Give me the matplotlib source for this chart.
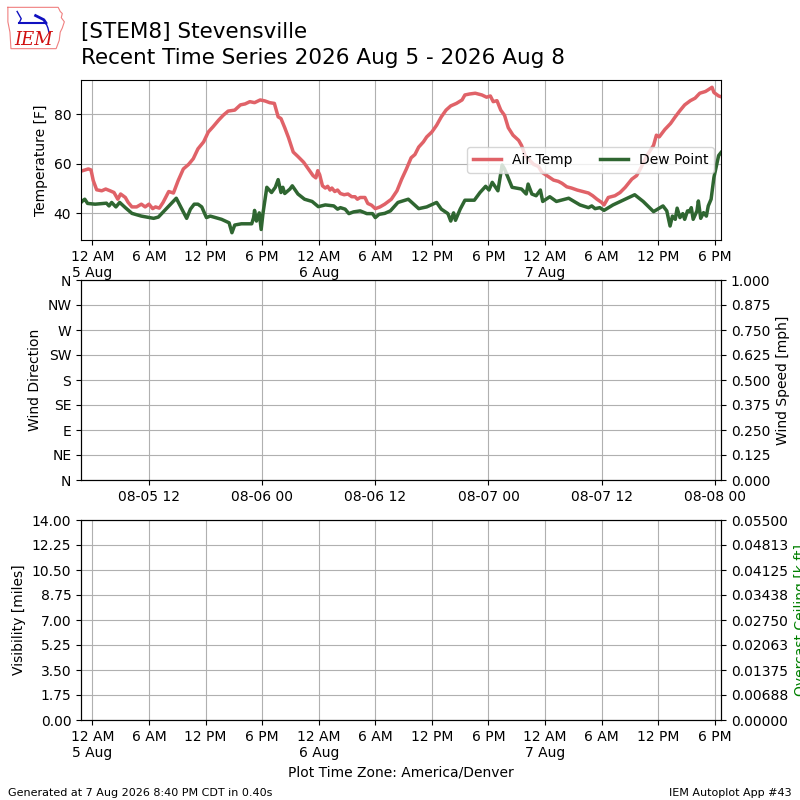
import datetime
import matplotlib
matplotlib.use("Agg")
import matplotlib.pyplot as plt
import matplotlib.dates as mdates
from matplotlib.ticker import FuncFormatter, FixedLocator

# hours relative to 2026-08-05 00:00 America/Denver
temp_hours = [-1.2, -0.42, -0.14, 0.1, 0.46, 1.0, 1.42, 1.88, 2.3, 2.7, 3.0, 3.5, 3.8, 4.2, 4.7,
              5.2, 5.6, 6.0, 6.4, 6.7, 7.1, 7.5, 8.1, 8.6, 9.1, 9.65, 10.2, 10.7, 11.2, 11.8,
              12.3, 12.8, 13.4, 13.9, 14.4, 15.1, 15.7, 16.2, 16.7, 17.2, 17.8, 18.3, 18.8,
              19.3, 19.7, 20.0, 20.4, 20.8, 21.3, 21.8, 22.4, 22.9, 23.4, 23.7, 23.9, 24.1,
              24.4, 24.7, 24.95, 25.2, 25.4, 25.7, 26.0, 26.3, 26.7, 27.1, 27.5, 27.85, 28.1,
              28.4, 28.9, 29.2, 29.6, 30.0, 30.5, 31.0, 31.7, 32.3, 32.8, 33.3, 33.8, 34.2,
              34.6, 35.1, 35.45, 36.0, 36.5, 37.0, 37.5, 38.0, 38.6, 39.2, 39.5, 40.0, 40.6,
              41.3, 41.8, 42.2, 42.5, 42.9, 43.3, 43.7, 44.1, 44.6, 45.2, 45.5, 45.9, 46.2,
              46.8, 47.3, 47.65, 48.2, 48.9, 49.4, 49.8, 50.3, 50.8, 51.4, 52.1, 52.6, 53.05,
              53.5, 54.0, 54.25, 54.7, 55.4, 55.95, 56.5, 57.2, 57.7, 58.1, 58.8, 59.5, 59.8,
              60.1, 60.7, 61.3, 61.8, 62.3, 62.8, 63.4, 63.9, 64.4, 65.0, 65.3, 65.7, 65.9,
              66.4, 66.65]
air_temp = [57.0, 57.9, 57.5, 53.2, 49.5, 49.1, 49.8, 49.1, 48.4, 45.7, 47.8, 46.4, 44.4, 42.6, 42.6,
            43.7, 42.6, 43.7, 41.9, 42.6, 42.1, 44.4, 48.8, 48.2, 53.2, 57.9, 59.7, 62.0, 66.0, 68.8,
            72.8, 74.9, 77.6, 79.6, 81.2, 81.6, 83.7, 84.1, 85.0, 84.6, 85.7, 85.3, 84.6,
            84.3, 78.9, 78.2, 74.5, 70.5, 64.7, 62.9, 60.6, 57.9, 55.2, 54.3, 57.2, 55.6,
            51.1, 50.2, 50.9, 49.4, 50.2, 48.8, 49.4, 48.0, 47.5, 47.8, 46.7, 46.7, 45.7,
            46.4, 46.4, 44.0, 43.3, 41.9, 42.6, 43.7, 45.7, 49.1, 53.8, 57.9, 62.4, 63.7,
            66.7, 68.8, 70.8, 72.8, 75.5, 78.9, 81.6, 83.3, 84.3, 85.7, 87.7, 88.1, 88.4,
            87.7, 86.8, 87.3, 85.0, 85.4, 81.6, 79.5, 74.5, 71.5, 69.4, 67.4, 63.3, 62.0,
            59.7, 58.9, 56.6, 55.2, 53.4, 52.9, 52.1, 50.7, 50.2, 49.4, 48.7, 48.2, 47.1,
            45.7, 44.4, 43.4, 46.4, 47.1, 48.4, 50.5, 53.8, 55.2, 57.9, 63.3, 67.4, 71.5,
            70.8, 73.8, 76.2, 78.9, 81.4, 83.7, 85.4, 86.4, 88.4, 89.1, 89.8, 90.8, 88.7,
            87.3, 87.0]

dew_hours = [-1.2, -0.95, -0.8, -0.5, 0.3, 1.5, 1.77, 2.05, 2.5, 2.9, 3.5, 4.2, 5.2, 6.5, 7.0,
             7.9, 8.9, 9.5, 10.0, 10.4, 10.8, 11.2, 11.6, 12.1, 12.5, 13.7, 14.5, 14.8, 15.1,
             15.8, 16.9, 17.1, 17.2, 17.4, 17.7, 17.9, 18.1, 18.5, 19.0, 19.4, 19.7, 20.0,
             20.2, 20.4, 20.95, 21.2, 21.8, 22.5, 23.3, 23.96, 24.7, 25.6, 26.0, 26.3, 26.8,
             27.2, 27.7, 28.4, 29.1, 29.7, 30.0, 30.4, 31.0, 31.6, 32.4, 33.5, 34.6, 35.45,
             36.5, 37.0, 37.7, 38.0, 38.3, 38.5, 39.0, 39.5, 40.5, 41.1, 41.7, 42.05, 42.4,
             43.0, 43.45, 43.7, 44.5, 45.5, 46.0, 46.2, 46.6, 47.05, 47.5, 47.75, 48.5, 49.2,
             50.5, 51.7, 52.6, 52.95, 53.3, 53.8, 54.25, 55.2, 56.5, 57.5, 58.4, 59.5, 60.5,
             60.9, 61.25, 61.5, 61.8, 62.0, 62.3, 62.6, 62.8, 63.1, 63.3, 63.5, 63.7, 64.1,
             64.25, 64.5, 64.8, 65.1, 65.3, 65.6, 65.9, 66.4, 66.65]
dew_point = [44.4, 45.3, 45.7, 44.0, 43.7, 44.1, 43.0, 44.4, 42.6, 44.4, 42.3, 40.0, 38.9, 38.0, 38.5,
             42.1, 46.1, 41.7, 38.0, 41.7, 43.7, 43.7, 42.6, 38.3, 38.9, 37.6, 36.2, 32.2, 35.3,
             35.8, 35.8, 38.3, 41.2, 36.9, 40.2, 33.5, 40.2, 50.5, 48.4, 50.5, 53.6, 48.4,
             50.5, 48.0, 49.8, 51.1, 47.8, 45.7, 44.8, 42.7, 43.4, 43.0, 41.7, 42.3, 41.7,
             39.9, 40.6, 41.0, 39.9, 39.9, 38.3, 39.6, 40.0, 41.0, 44.4, 45.7, 41.9, 42.6,
             44.4, 41.7, 39.9, 36.9, 40.2, 37.2, 41.7, 45.3, 45.3, 48.4, 50.9, 49.4, 52.5,
             49.1, 59.5, 57.9, 50.5, 49.8, 47.8, 51.8, 47.8, 47.1, 49.4, 44.8, 46.7, 44.8,
             46.1, 43.4, 42.3, 43.0, 41.9, 42.3, 41.2, 43.4, 45.7, 47.5, 44.8, 40.7, 43.0,
             41.0, 34.9, 38.9, 37.6, 42.1, 38.3, 39.9, 37.6, 41.0, 40.7, 42.3, 37.6, 41.0,
             45.0, 38.0, 40.3, 38.9, 43.0, 45.7, 54.5, 63.3, 64.5]

wind_dir_ticks = [0, 45, 90, 135, 180, 225, 270, 315, 360]
wind_dir_labels = ["N", "NE", "E", "SE", "S", "SW", "W", "NW", "N"]
wind_speed_ticks = [0, 0.125, 0.25, 0.375, 0.5, 0.625, 0.75, 0.875, 1.0]
vis_ticks = [0, 1.75, 3.5, 5.25, 7.0, 8.75, 10.5, 12.25, 14.0]
ceiling_ticks = [0, 0.006875, 0.01375, 0.020625, 0.0275, 0.034375, 0.04125, 0.048125, 0.055]
ceiling_labels = ["0.00000", "0.00688", "0.01375", "0.02063", "0.02750",
                  "0.03438", "0.04125", "0.04813", "0.05500"]

base = datetime.datetime(2026, 8, 5, 0, 0)
utc_offset = datetime.timedelta(hours=6)
t_air = [base + datetime.timedelta(hours=h) for h in temp_hours]
t_dew = [base + datetime.timedelta(hours=h) for h in dew_hours]
t0 = min(t_air[0], t_dew[0])
t1 = max(t_air[-1], t_dew[-1])


def local_fmt(x, pos=None):
    d = mdates.num2date(x)
    lab = d.strftime("%I %p").lstrip("0")
    if d.hour == 0:
        lab += "\n" + str(d.day) + d.strftime(" %b")
    return lab


fig = plt.figure(figsize=(8, 8), dpi=100)

# temperature panel
ax1 = fig.add_axes([0.10125, 0.70, 0.80, 0.20])
ax1.plot(t_air, air_temp, color="#e06268", lw=2.5, label="Air Temp")
ax1.plot(t_dew, dew_point, color="#2f6631", lw=2.5, label="Dew Point")
ax1.set_xlim(t0, t1)
ax1.set_yticks([40, 60, 80])
ax1.grid(True)
ax1.set_ylabel("Temperature [F]")
ax1.xaxis.set_major_locator(mdates.HourLocator(byhour=[0, 6, 12, 18]))
ax1.xaxis.set_major_formatter(FuncFormatter(local_fmt))
ax1.legend(loc="center right", ncol=2)

# wind panel (no data, shown in UTC)
ax2 = fig.add_axes([0.10125, 0.40, 0.80, 0.25])
ax2.set_xlim(t0 + utc_offset, t1 + utc_offset)
ax2.xaxis.set_major_locator(mdates.HourLocator(byhour=[0, 12]))
ax2.xaxis.set_major_formatter(mdates.DateFormatter("%m-%d %H"))
ax2.set_ylim(0, 360)
ax2.set_yticks(wind_dir_ticks)
ax2.set_yticklabels(wind_dir_labels)
ax2.set_ylabel("Wind Direction")
ax2.grid(True)
ax2b = ax2.twinx()
ax2b.set_ylim(0, 1)
ax2b.set_yticks(wind_speed_ticks)
ax2b.set_yticklabels(["%.3f" % v for v in wind_speed_ticks])
ax2b.set_ylabel("Wind Speed [mph]")

# visibility panel
ax3 = fig.add_axes([0.10125, 0.10, 0.80, 0.25])
ax3.set_xlim(t0, t1)
ax3.xaxis.set_major_locator(mdates.HourLocator(byhour=[0, 6, 12, 18]))
ax3.xaxis.set_major_formatter(FuncFormatter(local_fmt))
ax3.set_ylim(0, 14)
ax3.set_yticks(vis_ticks)
ax3.set_yticklabels(["%.2f" % v for v in vis_ticks])
ax3.set_ylabel("Visibility [miles]")
ax3.set_xlabel("Plot Time Zone: America/Denver")
ax3.grid(True)
ax3b = ax3.twinx()
ax3b.set_ylim(0, 0.055)
ax3b.yaxis.set_major_locator(FixedLocator(ceiling_ticks))
ax3b.set_yticklabels(ceiling_labels)
ax3b.set_ylabel("Overcast Ceiling [k ft]", color="g")

# titles and footer
fig.text(0.10125, 1 - 38 / 800, "[STEM8] Stevensville", fontsize=15.5, va="baseline")
fig.text(0.10125, 1 - 64 / 800, "Recent Time Series 2026 Aug 5 - 2026 Aug 8",
         fontsize=15.5, va="baseline")
fig.text(0.01, 0.005, "Generated at 7 Aug 2026 8:40 PM CDT in 0.40s", fontsize=8)
fig.text(0.99, 0.005, "IEM Autoplot App #43", fontsize=8, ha="right")

# rough IEM logo
logo = fig.add_axes([0.006, 0.934, 0.077, 0.062])
logo.set_xlim(0, 60)
logo.set_ylim(0, 48)
logo.axis("off")
iowa_x = [3, 52, 54, 56, 55, 58, 56, 54, 53, 50, 6, 5, 3, 3]
iowa_y = [44, 44, 40, 38, 34, 30, 24, 20, 12, 4, 4, 20, 30, 44]
logo.plot(iowa_x, iowa_y, color="#f08080", lw=0.8)
logo.plot([14, 40], [29, 29], color="#1010c0", lw=1.5)
logo.plot([12, 16, 14], [40, 33, 29], color="#1010c0", lw=1.0)
logo.plot([30, 38, 40], [36, 32, 29], color="#1010c0", lw=2.0)
logo.plot([40, 42, 43], [29, 24, 20], color="#1010c0", lw=1.0)
logo.text(28, 12, "IEM", color="#d01010", fontsize=13, family="DejaVu Serif",
          style="italic", ha="center", va="center")

fig.savefig("out.png", dpi=100)
